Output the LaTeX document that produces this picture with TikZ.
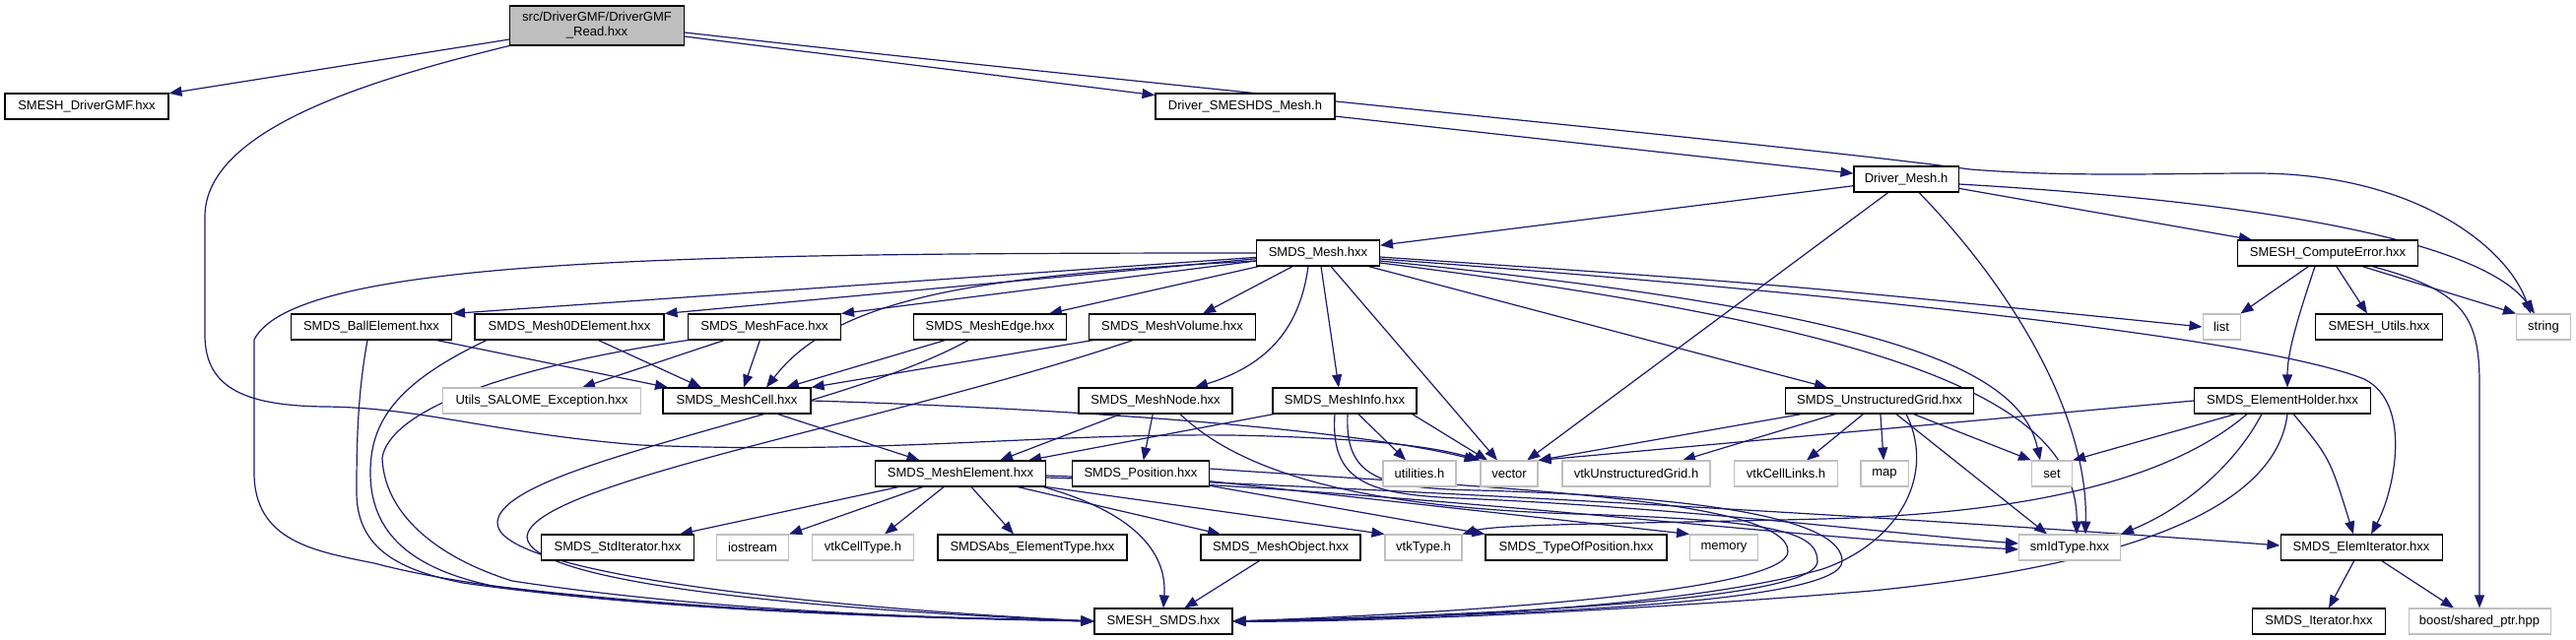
\documentclass[tikz,border=0pt]{standalone}
\usepackage{fontspec}
\setmainfont{Liberation Sans}
\usetikzlibrary{arrows.meta}
\definecolor{edgec}{HTML}{191970}
\definecolor{gborder}{HTML}{BFBFBF}
\definecolor{rfill}{HTML}{BFBFBF}
\pgfdeclarelayer{bglayer}
\pgfdeclarelayer{edgelayer}
\pgfsetlayers{bglayer,edgelayer,main}
\tikzset{
  nd/.style={draw=black, line width=1.05pt, fill=white, minimum height=26pt, inner sep=0pt,
    font=\fontsize{13}{15}\selectfont, text=black},
  gnd/.style={nd, draw=gborder},
  ed/.style={draw=edgec, line width=1.2pt, -{Triangle[length=13pt,width=10pt]}},
}
\begin{document}
\begin{tikzpicture}[x=1pt,y=-1pt]
\begin{pgfonlayer}{bglayer}
\fill[white] (0,0) rectangle (2615,649);
\end{pgfonlayer}
\useasboundingbox (0,0) rectangle (2615,649);

% row 0-2
\node[nd,fill=rfill,minimum width=177pt,minimum height=40pt,align=center] (read) at (606,26) {src/DriverGMF/DriverGMF\\\_Read.hxx};
\node[nd,minimum width=166pt] (drivergmf) at (88,108) {SMESH\_DriverGMF.hxx};
\node[nd,minimum width=182pt] (dsmesh) at (1264,108) {Driver\_SMESHDS\_Mesh.h};
\node[nd,minimum width=106pt] (drivermesh) at (1935,182) {Driver\_Mesh.h};
% row 3
\node[nd,minimum width=125pt] (smdsmesh) at (1338,257) {SMDS\_Mesh.hxx};
\node[nd,minimum width=183pt] (computeerror) at (2363,257) {SMESH\_ComputeError.hxx};
% row 4
\node[nd,minimum width=163pt] (ball) at (377,332) {SMDS\_BallElement.hxx};
\node[nd,minimum width=192pt] (m0d) at (578,332) {SMDS\_Mesh0DElement.hxx};
\node[nd,minimum width=155pt] (meshface) at (776,332) {SMDS\_MeshFace.hxx};
\node[nd,minimum width=155pt] (meshedge) at (1005,332) {SMDS\_MeshEdge.hxx};
\node[nd,minimum width=169pt] (meshvolume) at (1190,332) {SMDS\_MeshVolume.hxx};
\node[gnd,minimum width=38pt] (list) at (2255,332) {list};
\node[nd,minimum width=129pt] (smeshutils) at (2415,332) {SMESH\_Utils.hxx};
\node[gnd,minimum width=55pt] (string) at (2582,332) {string};
% row 5
\node[gnd,minimum width=201pt] (utilsexc) at (550,407) {Utils\_SALOME\_Exception.hxx};
\node[nd,minimum width=150pt] (meshcell) at (748,407) {SMDS\_MeshCell.hxx};
\node[nd,minimum width=156pt] (meshnode) at (1173,407) {SMDS\_MeshNode.hxx};
\node[nd,minimum width=146pt] (meshinfo) at (1365,407) {SMDS\_MeshInfo.hxx};
\node[nd,minimum width=191pt] (ug) at (1908,407) {SMDS\_UnstructuredGrid.hxx};
\node[nd,minimum width=179pt] (elementholder) at (2317,407) {SMDS\_ElementHolder.hxx};
% row 6
\node[nd,minimum width=173pt] (meshelement) at (975,481) {SMDS\_MeshElement.hxx};
\node[nd,minimum width=139pt] (position) at (1158,481) {SMDS\_Position.hxx};
\node[gnd,minimum width=74pt] (utilities) at (1441,481) {utilities.h};
\node[gnd,minimum width=58pt] (vector) at (1532,481) {vector};
\node[gnd,minimum width=150pt] (vtkug) at (1661,481) {vtkUnstructuredGrid.h};
\node[gnd,minimum width=105pt] (vtkcelllinks) at (1813,481) {vtkCellLinks.h};
\node[gnd,minimum width=48pt] (map) at (1913,481) {map};
\node[gnd,minimum width=41pt] (set) at (2083,481) {set};
% row 7
\node[nd,minimum width=155pt] (stditerator) at (627,556) {SMDS\_StdIterator.hxx};
\node[gnd,minimum width=73pt] (iostream) at (764,556) {iostream};
\node[gnd,minimum width=103pt] (vtkcelltype) at (876,556) {vtkCellType.h};
\node[nd,minimum width=192pt] (smdsabs) at (1048,556) {SMDSAbs\_ElementType.hxx};
\node[nd,minimum width=162pt] (meshobject) at (1300,556) {SMDS\_MeshObject.hxx};
\node[gnd,minimum width=78pt] (vtktype) at (1445,556) {vtkType.h};
\node[nd,minimum width=184pt] (typeofpos) at (1600,556) {SMDS\_TypeOfPosition.hxx};
\node[gnd,minimum width=69pt] (memory) at (1750,556) {memory};
\node[gnd,minimum width=103pt] (smidtype) at (2101,556) {smIdType.hxx};
\node[nd,minimum width=164pt] (elemiterator) at (2397,556) {SMDS\_ElemIterator.hxx};
% row 8
\node[nd,minimum width=140pt] (smeshsmds) at (1181,631) {SMESH\_SMDS.hxx};
\node[nd,minimum width=135pt] (smdsiterator) at (2354,631) {SMDS\_Iterator.hxx};
\node[gnd,minimum width=144pt] (boost) at (2517,631) {boost/shared\_ptr.hpp};

\begin{pgfonlayer}{edgelayer}
% read
\draw[ed] (read) -- (drivergmf);
\draw[ed] (read) -- (dsmesh);
\draw[ed] (read.south west) .. controls (380,80) and (208,130) .. (208,220) -- (208,340)
  .. controls (208,395) and (250,412) .. (330,413) .. controls (430,414) and (500,440) .. (650,452)
  .. controls (900,462) and (1050,440) .. (1250,442) .. controls (1400,445) and (1460,455) .. (vector.north west);
\draw[ed] ([yshift=-7pt]read.east) .. controls (1200,90) and (1800,145) .. (2000,172)
  .. controls (2100,180) and (2200,176) .. (2290,176) .. controls (2450,176) and (2545,250) .. ([xshift=-13pt]string.north);
% dsmesh
\draw[ed] (dsmesh) -- (drivermesh);
% drivermesh
\draw[ed] (drivermesh) -- (smdsmesh);
\draw[ed] (drivermesh) -- (computeerror);
\draw[ed] ([yshift=-5pt]drivermesh.east) .. controls (2300,205) and (2520,245) .. ([xshift=-9pt]string.north);
\draw[ed] (drivermesh) -- (vector);
\draw[ed] ([xshift=13pt]drivermesh.south) .. controls (2040,290) and (2120,420) .. ([xshift=16pt]smidtype.north);
% smdsmesh
\draw[ed] (smdsmesh.west) .. controls (700,257) and (300,262) .. (258,345) -- (258,480)
  .. controls (258,550) and (320,560) .. (380,572) .. controls (560,620) and (950,628) .. (smeshsmds.west);
\draw[ed] (smdsmesh) -- (ball.north east);
\draw[ed] (smdsmesh) -- (m0d.north east);
\draw[ed] (smdsmesh) -- (meshface.north east);
\draw[ed] ([yshift=-8pt]smdsmesh.west) .. controls (1000,280) and (850,300) .. ([xshift=30pt]meshcell.north);
\draw[ed] (smdsmesh) -- ([xshift=60pt]meshedge.north);
\draw[ed] (smdsmesh) -- ([xshift=31pt]meshvolume.north);
\draw[ed] ([xshift=-10pt]smdsmesh.south) .. controls (1320,330) and (1290,370) .. ([xshift=40pt]meshnode.north);
\draw[ed] ([xshift=3pt]smdsmesh.south) -- ([xshift=-6pt]meshinfo.north);
\draw[ed] ([xshift=13pt]smdsmesh.south) -- ([xshift=-12pt]vector.north);
\draw[ed] (smdsmesh) -- ([xshift=-53pt]ug.north);
\draw[ed] ([yshift=-4pt]smdsmesh.east) .. controls (1800,288) .. (list.west);
\draw[ed] ([yshift=-6pt]smdsmesh.east) .. controls (1900,300) and (2300,345) .. (2400,385)
  .. controls (2450,410) and (2430,500) .. ([xshift=10pt]elemiterator.north);
\draw[ed] ([yshift=-8pt]smdsmesh.east) .. controls (1900,315) and (2050,370) .. ([xshift=-12pt]set.north);
\draw[ed] ([yshift=-10pt]smdsmesh.east) .. controls (1900,330) and (2110,400) .. ([xshift=7pt]smidtype.north);
% ball
\draw[ed] (ball) -- ([xshift=-70pt]meshcell.north);
\draw[ed] ([xshift=-4pt]ball.south) .. controls (363,400) and (362,450) .. (362,500)
  .. controls (362,560) and (410,580) .. (470,592) .. controls (700,625) and (1000,628) .. (smeshsmds.west);
% m0d
\draw[ed] (m0d) -- ([xshift=-36pt]meshcell.north);
\draw[ed] ([xshift=-84pt]m0d.south) .. controls (400,390) and (376,430) .. (376,480)
  .. controls (376,550) and (430,580) .. (500,595) .. controls (750,625) and (1000,628) .. (smeshsmds.west);
% meshface
\draw[ed] (meshface) -- ([xshift=7pt]meshcell.north);
\draw[ed] (meshface) -- ([xshift=41pt]utilsexc.north);
\draw[ed] (meshface.south west) .. controls (500,375) and (395,420) .. (388,465)
  .. controls (390,520) and (440,565) .. (520,590) .. controls (750,625) and (1000,628) .. (smeshsmds.west);
% meshedge
\draw[ed] (meshedge) -- ([xshift=50pt]meshcell.north);
\draw[ed] ([xshift=-22pt]meshedge.south) .. controls (850,420) and (510,470) .. (505,530)
  .. controls (500,580) and (800,615) .. (smeshsmds.west);
% meshvolume
\draw[ed] (meshvolume) -- (meshcell.north east);
\draw[ed] ([xshift=-40pt]meshvolume.south) .. controls (900,430) and (540,490) .. (535,545)
  .. controls (535,590) and (800,618) .. (smeshsmds.west);
% meshcell
\draw[ed] (meshcell) -- (meshelement);
\draw[ed] (meshcell.east) .. controls (1000,412) and (1350,430) .. ([xshift=-3pt]vector.north west);
% meshnode
\draw[ed] (meshnode) -- ([xshift=40pt]meshelement.north);
\draw[ed] (meshnode) -- (position);
\draw[ed] ([xshift=25pt]meshnode.south) .. controls (1260,480) and (1380,515) .. (1600,522)
  .. controls (1800,528) and (1845,540) .. (1845,570) .. controls (1845,605) and (1600,622) .. (smeshsmds.east);
% meshinfo
\draw[ed] (meshinfo) -- ([xshift=69pt]meshelement.north);
\draw[ed] (meshinfo) -- (utilities);
\draw[ed] ([xshift=-5pt]meshinfo.south east) -- ([xshift=-22pt]vector.north);
\draw[ed] ([xshift=-10pt]meshinfo.south) .. controls (1350,490) and (1390,502) .. (1480,506)
  .. controls (1700,515) and (1900,540) .. ([yshift=4pt]smidtype.west);
\draw[ed] ([xshift=3pt]meshinfo.south) .. controls (1365,485) and (1400,496) .. (1500,498)
  .. controls (1750,505) and (1870,530) .. (1870,570) .. controls (1870,612) and (1550,625) .. (smeshsmds.east);
% position
\draw[ed] (position) -- (typeofpos.north west);
\draw[ed] (position) -- (memory.north west);
\draw[ed] ([yshift=5pt]position.east) .. controls (1500,495) and (1815,505) .. (1815,560)
  .. controls (1815,600) and (1500,622) .. (smeshsmds.east);
% meshelement
\draw[ed] (meshelement) -- ([xshift=-15pt]stditerator.north east);
\draw[ed] (meshelement) -- (iostream.north east);
\draw[ed] (meshelement) -- ([xshift=22pt]vtkcelltype.north);
\draw[ed] ([xshift=11pt]meshelement.south) -- ([xshift=-19pt]smdsabs.north);
\draw[ed] (meshelement) -- ([xshift=-61pt]meshobject.north);
\draw[ed] (meshelement.south east) -- (vtktype.north west);
\draw[ed] ([xshift=-3pt]meshelement.south east) .. controls (1150,520) and (1185,560) .. (smeshsmds.north);
\draw[ed] ([yshift=-4pt]meshelement.east) .. controls (1400,495) and (1800,545) .. ([yshift=-2pt]smidtype.west);
\draw[ed] ([yshift=-2pt]meshelement.east) .. controls (1500,500) and (2000,530) .. ([yshift=2pt]elemiterator.west);
% meshobject
\draw[ed] (meshobject) -- (smeshsmds);
% ug
\draw[ed] ([xshift=17pt]ug.south west) -- (vector.north east);
\draw[ed] (ug) -- ([xshift=47pt]vtkug.north);
\draw[ed] (ug) -- ([xshift=21pt]vtkcelllinks.north);
\draw[ed] (ug) -- (map);
\draw[ed] (ug) -- (set.north west);
\draw[ed] (ug) -- ([xshift=-23pt]smidtype.north);
\draw[ed] ([xshift=27pt]ug.south) .. controls (1965,480) and (1930,550) .. (1850,578)
  .. controls (1700,620) and (1400,630) .. (smeshsmds.east);
% elementholder
\draw[ed] (elementholder.west) -- (vector.north east);
\draw[ed] (elementholder) -- (set.north east);
\draw[ed] ([xshift=-21pt]elementholder.south) .. controls (2270,470) and (2220,515) .. (smidtype.north east);
\draw[ed] ([xshift=-36pt]elementholder.south) .. controls (2200,490) and (2050,522) .. (1850,527)
  .. controls (1650,532) and (1520,532) .. (vtktype.north east);
\draw[ed] (elementholder) .. controls (2365,465) .. ([xshift=-8pt]elemiterator.north);
\draw[ed] ([xshift=5pt]elementholder.south) .. controls (2310,520) and (2150,575) .. (1900,600)
  .. controls (1600,625) and (1350,632) .. (smeshsmds.east);
% computeerror
\draw[ed] (computeerror) -- (list.north east);
\draw[ed] (computeerror) -- ([xshift=-12pt]smeshutils.north);
\draw[ed] ([xshift=35pt]computeerror.south) -- (string.north west);
\draw[ed] ([xshift=-13pt]computeerror.south) .. controls (2330,330) and (2322,360) .. ([xshift=5pt]elementholder.north);
\draw[ed] ([xshift=45pt]computeerror.south) .. controls (2500,295) and (2517,320) .. (2517,390) -- (boost.north);
% elemiterator
\draw[ed] (elemiterator) -- ([xshift=10pt]smdsiterator.north);
\draw[ed] (elemiterator) -- ([xshift=-26pt]boost.north);
\end{pgfonlayer}
\end{tikzpicture}
\end{document}
